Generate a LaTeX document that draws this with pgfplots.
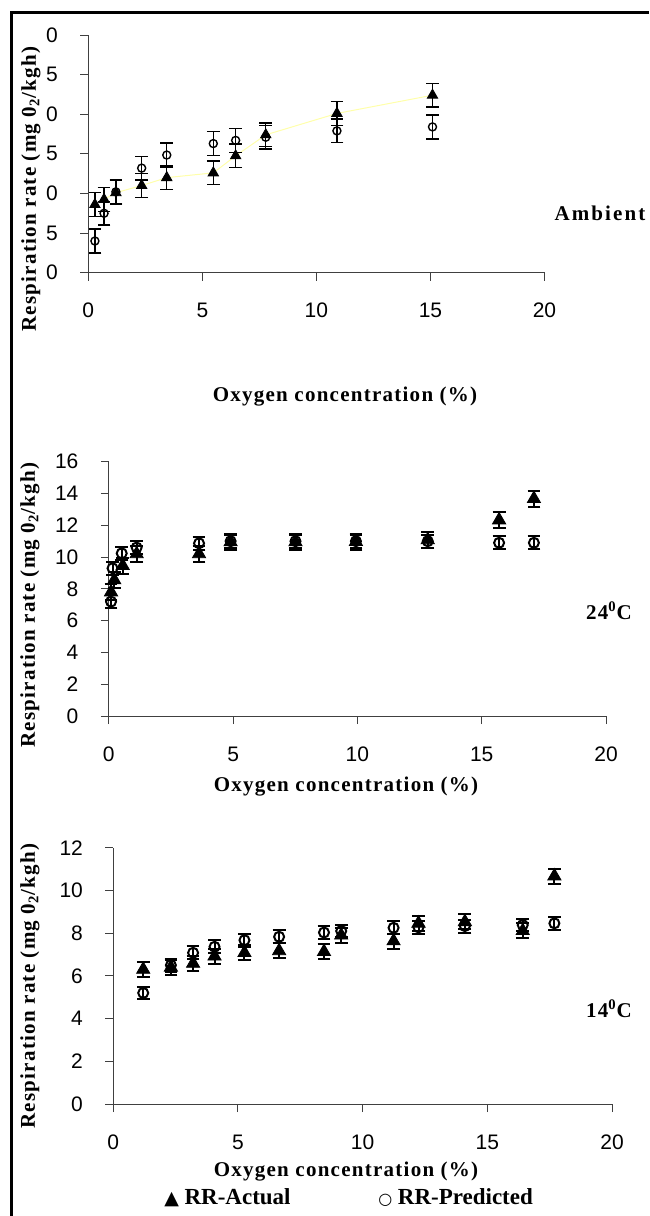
\documentclass[border=0pt]{standalone}
\usepackage{fontspec}
\setmainfont{Liberation Sans}
\newfontfamily\tnr{Liberation Serif}[LetterSpace=6]
\newfontfamily\tnrplain{Liberation Serif}
\newfontfamily\sym{DejaVu Sans}
\usepackage{pgfplots}
\pgfplotsset{compat=1.18}

\definecolor{trend}{RGB}{255,255,170}

\pgfplotsset{
  panel/.style={
    scale only axis,
    axis lines=left,
    axis line style={-, black!75, line width=0.5pt},
    tick align=outside,
    major tick length=4pt,
    tick style={black!75, line width=0.5pt},
    xmin=0, xmax=20, xtick={0,5,...,20},
    tick label style={font=\fontsize{10.5}{12}\selectfont},
    yticklabel style={anchor=east, inner sep=0pt, xshift=-11pt},
    xticklabel style={anchor=center, yshift=-15pt},
    /pgf/number format/assume math mode=true,
    clip=false,
  },
  % #1 mark size, #2 line width of error bars
  act/.style 2 args={only marks, mark=triangle*, mark size=#1,
    mark options={fill=black, draw=black},
    error bars/.cd, y dir=both, y explicit, error mark=-,
    error bar style={black, line width=#2},
    error mark options={rotate=90, black, mark size=3.2pt, line width=#2}},
  pred/.style 2 args={only marks, mark=o, mark size=#1,
    mark options={draw=black, fill=white, line width=#2},
    error bars/.cd, y dir=both, y explicit, error mark=-,
    error bar style={black, line width=#2},
    error mark options={rotate=90, black, mark size=3.2pt, line width=#2}},
}

\newcommand\ttl{\fontsize{10.5}{12}\selectfont\tnr\bfseries}

\begin{document}
\begin{tikzpicture}
\path[use as bounding box] (0,0) rectangle (324.5pt,-608pt);
\draw[line width=1.4pt] (5.75pt,-608pt) -- (5.75pt,-6.2pt) -- (324.5pt,-6.2pt);

% Ambient
\begin{axis}[panel, at={(44.15pt,-136.35pt)}, anchor=south west,
  width=228.1pt, height=118.85pt,
  ymin=0, ymax=30, ytick={0,5,...,30}, yticklabels={0,5,0,5,0,5,0}]
\addplot[trend, line width=0.5pt] coordinates {
  (0.69,9.25) (1.21,10.1) (2.34,11.0) (3.44,12.0) (5.48,12.6)
  (6.46,14.75) (7.78,17.4) (10.9,20.1) (15.09,22.4)};
\addplot[act={3pt}{0.7pt}] coordinates {
  (0.29,8.6) +- (0,1.5) (0.69,9.25) +- (0,1.5) (1.21,10.1) +- (0,1.5)
  (2.34,11.0) +- (0,1.5) (3.44,12.0) +- (0,1.5) (5.48,12.6) +- (0,1.5)
  (6.46,14.75) +- (0,1.5) (7.78,17.4) +- (0,1.5) (10.9,20.1) +- (0,1.5)
  (15.09,22.4) +- (0,1.5)};
\addplot[pred={2pt}{0.7pt}] coordinates {
  (0.29,4.0) +- (0,1.5) (0.69,7.5) +- (0,1.5) (1.21,10.2) +- (0,1.5)
  (2.34,13.2) +- (0,1.5) (3.44,14.85) +- (0,1.5) (5.48,16.3) +- (0,1.5)
  (6.46,16.7) +- (0,1.5) (7.78,17.1) +- (0,1.5) (10.9,17.9) +- (0,1.5)
  (15.09,18.4) +- (0,1.5)};
\end{axis}

% 24 C
\begin{axis}[panel, at={(54.4pt,-358.05pt)}, anchor=south west,
  width=248.6pt, height=127.2pt,
  ymin=0, ymax=16, ytick={0,2,...,16}]
\addplot[act={3.8pt}{1pt}] coordinates {
  (0.09,7.8) +- (0,0.5) (0.22,8.56) +- (0,0.5) (0.56,9.46) +- (0,0.5)
  (1.12,10.2) +- (0,0.5) (3.63,10.2) +- (0,0.5) (4.9,10.95) +- (0,0.5)
  (7.51,10.95) +- (0,0.5) (9.94,10.97) +- (0,0.5) (12.83,11.08) +- (0,0.5)
  (15.7,12.33) +- (0,0.5) (17.1,13.67) +- (0,0.5)};
\addplot[pred={2.5pt}{1pt}] coordinates {
  (0.09,7.2) +- (0,0.4) (0.15,9.3) +- (0,0.4) (0.52,10.24) +- (0,0.4)
  (1.12,10.6) +- (0,0.4) (3.63,10.87) +- (0,0.4) (4.9,11.0) +- (0,0.4)
  (7.51,11.0) +- (0,0.4) (9.94,11.0) +- (0,0.4) (12.83,11.0) +- (0,0.4)
  (15.7,10.9) +- (0,0.4) (17.1,10.9) +- (0,0.4)};
\end{axis}

% 14 C
\begin{axis}[panel, at={(56.65pt,-552pt)}, anchor=south west,
  width=249.35pt, height=128.15pt,
  ymin=0, ymax=12, ytick={0,2,...,12}]
\addplot[act={3.8pt}{1pt}] coordinates {
  (1.2,6.3) +- (0,0.35) (2.31,6.4) +- (0,0.35) (3.2,6.58) +- (0,0.35)
  (4.06,6.92) +- (0,0.35) (5.26,7.08) +- (0,0.35) (6.65,7.17) +- (0,0.35)
  (8.45,7.13) +- (0,0.35) (9.14,7.9) +- (0,0.35) (11.24,7.63) +- (0,0.35)
  (12.24,8.46) +- (0,0.35) (14.1,8.53) +- (0,0.35) (16.42,8.11) +- (0,0.35)
  (17.69,10.67) +- (0,0.35)};
\addplot[pred={2.5pt}{1pt}] coordinates {
  (1.2,5.2) +- (0,0.3) (2.31,6.5) +- (0,0.3) (3.2,7.08) +- (0,0.3)
  (4.06,7.36) +- (0,0.3) (5.26,7.67) +- (0,0.3) (6.65,7.83) +- (0,0.3)
  (8.45,8.03) +- (0,0.3) (9.14,8.1) +- (0,0.3) (11.24,8.25) +- (0,0.3)
  (12.24,8.27) +- (0,0.3) (14.1,8.33) +- (0,0.3) (16.42,8.38) +- (0,0.3)
  (17.69,8.46) +- (0,0.3)};
\end{axis}

% axis titles and panel labels
\node at (172.5pt,-198.5pt) {\ttl Oxygen concentration (\%)};
\node at (173pt,-393.5pt) {\ttl Oxygen concentration (\%)};
\node at (173pt,-586pt) {\ttl Oxygen concentration (\%)};
\node[rotate=90] at (15.5pt,-94.5pt) {\ttl Respiration rate (mg 0\textsubscript{2}/kgh)};
\node[rotate=90] at (15pt,-302.5pt) {\ttl Respiration rate (mg 0\textsubscript{2}/kgh)};
\node[rotate=90] at (15pt,-493pt) {\ttl Respiration rate (mg 0\textsubscript{2}/kgh)};
\node at (300pt,-106.5pt) {\fontsize{10.5}{12}\selectfont\tnrplain\addfontfeatures{LetterSpace=10}\bfseries Ambient};
\node at (304.5pt,-305.5pt) {\ttl 24\textsuperscript{0}C};
\node at (304.5pt,-504.5pt) {\ttl 14\textsuperscript{0}C};

% legend
\node[anchor=west, inner sep=0pt] at (82pt,-599pt)
  {{\sym\fontsize{9.5}{10}\selectfont ▲} {\fontsize{11.5}{12}\selectfont\tnrplain\bfseries RR-Actual}};
\node[anchor=west, inner sep=0pt] at (189pt,-599pt)
  {{\sym\fontsize{8}{10}\selectfont ○} {\fontsize{11.5}{12}\selectfont\tnrplain\bfseries RR-Predicted}};
\end{tikzpicture}
\end{document}
